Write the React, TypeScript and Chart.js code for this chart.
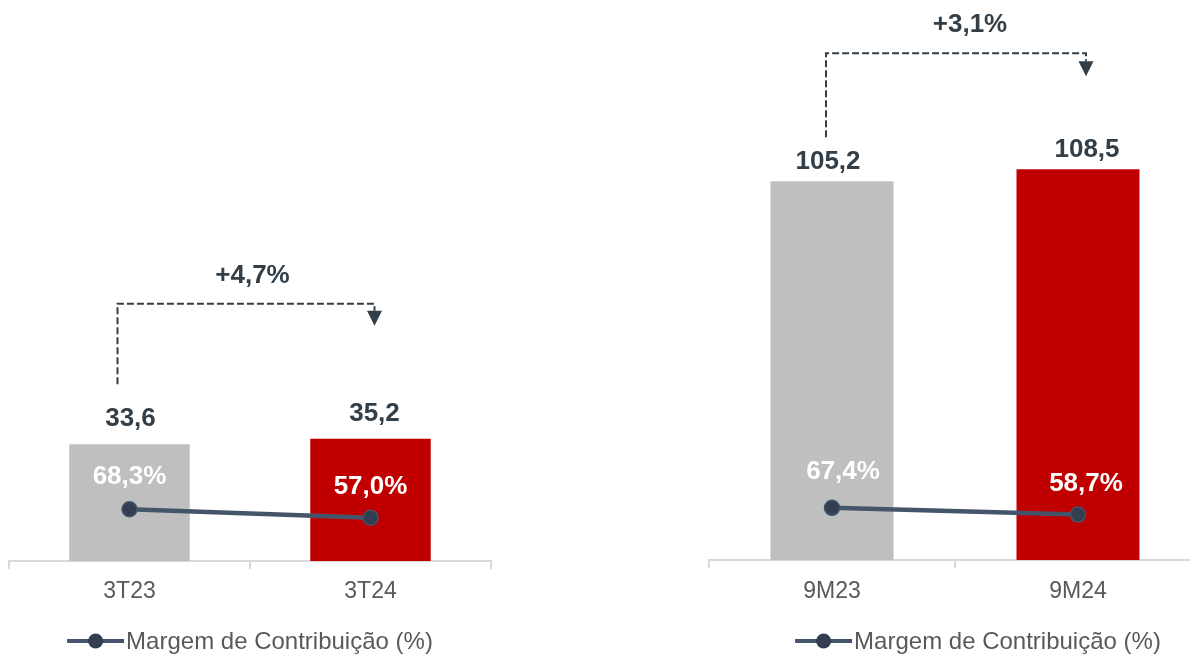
import React, { useEffect, useRef } from "react";
import { Chart, registerables } from "chart.js";

Chart.register(...registerables);

// ---------- data ----------
const leftCategories = ["3T23", "3T24"];
const leftValues = [33.6, 35.2];
const leftMargins = [68.3, 57.0];
const leftChange = "+4,7%";

const rightCategories = ["9M23", "9M24"];
const rightValues = [105.2, 108.5];
const rightMargins = [67.4, 58.7];
const rightChange = "+3,1%";

const legendLabel = "Margem de Contribuição (%)";

// ---------- styles ----------
const FONT = '"Liberation Sans", Arial, Helvetica, sans-serif';
const TEXT_DARK = "#333F48";
const TICK_COLOR = "#595959";
const AXIS_COLOR = "#D9D9D9";
const BAR_COLORS = ["#BFBFBF", "#C00000"];
const LINE_COLOR = "#44546A";
const POINT_FILL = "#333F50";

const fmt = (v: number) => v.toFixed(1).replace(".", ",");

type PanelStyle = {
  left: number;
  width: number;
  padLeft: number;
  padRight: number;
  padBottom: number;
  tickPadding: number;
  yMax: number;
  y1Max: number;
  valueGap: number;
  valueDx: number[];
  pctDx: number[];
  pctDy: number[];
  bracketDx: number[];
  bracketStartGap: number;
  bracketRise: number;
  arrowGap: number;
  changeDx: number;
  changeGap: number;
};

const leftStyle: PanelStyle = {
  left: 0,
  width: 500,
  padLeft: 9,
  padRight: 8,
  padBottom: 41.4,
  tickPadding: 9,
  yMax: 158.9,
  y1Max: 728,
  valueGap: 25,
  valueDx: [1, 4],
  pctDx: [0, 0],
  pctDy: [-32, -31],
  bracketDx: [-12, 4],
  bracketStartGap: 60,
  bracketRise: 135,
  arrowGap: 7,
  changeDx: 6.5,
  changeGap: 28,
};

const rightStyle: PanelStyle = {
  left: 700,
  width: 556,
  padLeft: 5,
  padRight: 55,
  padBottom: 40.4,
  tickPadding: 10,
  yMax: 153,
  y1Max: 712,
  valueGap: 19,
  valueDx: [-4, 9],
  pctDx: [11, 8],
  pctDy: [-36, -31],
  bracketDx: [-6, 8],
  bracketStartGap: 44,
  bracketRise: 116,
  arrowGap: 8,
  changeDx: 14,
  changeGap: 28,
};

const annotPlugin = {
  id: "annot",
  afterDatasetsDraw(chart: any, _args: any, opts: any) {
    const { ctx } = chart;
    const st: PanelStyle = opts.style;
    const values: number[] = opts.values;
    const margins: number[] = opts.margins;
    const barMeta = chart.getDatasetMeta(0);
    const lineMeta = chart.getDatasetMeta(1);
    ctx.save();
    ctx.textAlign = "center";
    ctx.textBaseline = "middle";
    ctx.font = `bold 26px ${FONT}`;

    // bar value labels
    ctx.fillStyle = TEXT_DARK;
    barMeta.data.forEach((bar: any, i: number) => {
      ctx.fillText(fmt(values[i]), bar.x + st.valueDx[i], bar.y - st.valueGap);
    });

    // margin labels
    ctx.fillStyle = "#FFFFFF";
    lineMeta.data.forEach((pt: any, i: number) => {
      ctx.fillText(fmt(margins[i]) + "%", pt.x + st.pctDx[i], pt.y + st.pctDy[i]);
    });

    // bracket
    const b0 = barMeta.data[0];
    const b1 = barMeta.data[1];
    const x0 = b0.x + st.bracketDx[0];
    const x1 = b1.x + st.bracketDx[1];
    const y0 = b0.y - st.bracketStartGap;
    const yTop = Math.min(b0.y, b1.y) - st.bracketRise;
    ctx.strokeStyle = TEXT_DARK;
    ctx.lineWidth = 2;
    ctx.setLineDash([7, 3]);
    ctx.beginPath();
    ctx.moveTo(x0, y0);
    ctx.lineTo(x0, yTop);
    ctx.lineTo(x1, yTop);
    ctx.lineTo(x1, yTop + st.arrowGap);
    ctx.stroke();
    ctx.setLineDash([]);
    ctx.fillStyle = TEXT_DARK;
    ctx.beginPath();
    ctx.moveTo(x1 - 7.5, yTop + st.arrowGap);
    ctx.lineTo(x1 + 7.5, yTop + st.arrowGap);
    ctx.lineTo(x1, yTop + st.arrowGap + 15);
    ctx.closePath();
    ctx.fill();

    // change label
    ctx.fillText(opts.change, (x0 + x1) / 2 + st.changeDx, yTop - st.changeGap);
    ctx.restore();
  },
  afterDraw(chart: any) {
    const { ctx } = chart;
    const cx = chart.width / 2;
    const y = 641;
    ctx.save();
    ctx.font = `24px ${FONT}`;
    const tw = ctx.measureText(legendLabel).width;
    const markerLen = 57;
    const gap = 2;
    const sx = cx - (markerLen + gap + tw) / 2;
    ctx.strokeStyle = LINE_COLOR;
    ctx.lineWidth = 4;
    ctx.beginPath();
    ctx.moveTo(sx, y);
    ctx.lineTo(sx + markerLen, y);
    ctx.stroke();
    ctx.fillStyle = POINT_FILL;
    ctx.beginPath();
    ctx.arc(sx + markerLen / 2, y, 7.5, 0, Math.PI * 2);
    ctx.fill();
    ctx.fillStyle = TICK_COLOR;
    ctx.textAlign = "left";
    ctx.textBaseline = "middle";
    ctx.fillText(legendLabel, sx + markerLen + gap, y + 1);
    ctx.restore();
  },
};

function Panel(props: {
  categories: string[];
  values: number[];
  margins: number[];
  change: string;
  style: PanelStyle;
}) {
  const ref = useRef<HTMLCanvasElement | null>(null);
  useEffect(() => {
    const canvas = ref.current;
    if (!canvas) return;
    const st = props.style;
    const chart = new Chart(canvas, {
      type: "bar",
      data: {
        labels: props.categories,
        datasets: [
          {
            type: "bar",
            label: "Valor",
            data: props.values,
            backgroundColor: BAR_COLORS,
            borderWidth: 0,
            barPercentage: 0.5,
            categoryPercentage: 1,
            yAxisID: "y",
            order: 2,
          } as any,
          {
            type: "line",
            label: legendLabel,
            data: props.margins,
            borderColor: LINE_COLOR,
            borderWidth: 4.5,
            pointRadius: 7.5,
            pointBackgroundColor: POINT_FILL,
            pointBorderColor: LINE_COLOR,
            pointBorderWidth: 1.5,
            yAxisID: "y1",
            order: 1,
            tension: 0,
          } as any,
        ],
      },
      options: {
        responsive: false,
        animation: false,
        devicePixelRatio: 1,
        layout: {
          padding: { top: 0, left: st.padLeft, right: st.padRight, bottom: st.padBottom },
        },
        plugins: {
          legend: { display: false },
          tooltip: { enabled: false },
          annot: {
            style: st,
            values: props.values,
            margins: props.margins,
            change: props.change,
          },
        } as any,
        scales: {
          x: {
            grid: {
              display: true,
              drawOnChartArea: false,
              drawTicks: true,
              tickLength: 8,
              color: AXIS_COLOR,
              lineWidth: 2,
              offset: true,
            },
            border: { display: true, color: AXIS_COLOR, width: 2 },
            ticks: {
              color: TICK_COLOR,
              font: { family: FONT, size: 23 },
              padding: st.tickPadding,
            },
          },
          y: { display: false, min: 0, max: st.yMax },
          y1: { display: false, min: 0, max: st.y1Max, position: "right" },
        },
      },
      plugins: [annotPlugin],
    } as any);
    return () => chart.destroy();
  }, []);
  return (
    <canvas
      ref={ref}
      width={props.style.width}
      height={656}
      style={{
        position: "absolute",
        left: props.style.left,
        top: 0,
        width: props.style.width,
        height: 656,
      }}
    />
  );
}

export default function App() {
  return (
    <div
      style={{
        position: "absolute",
        left: 0,
        top: 0,
        width: 1190,
        height: 656,
        overflow: "hidden",
        background: "#FFFFFF",
      }}
    >
      <Panel
        categories={leftCategories}
        values={leftValues}
        margins={leftMargins}
        change={leftChange}
        style={leftStyle}
      />
      <Panel
        categories={rightCategories}
        values={rightValues}
        margins={rightMargins}
        change={rightChange}
        style={rightStyle}
      />
    </div>
  );
}
